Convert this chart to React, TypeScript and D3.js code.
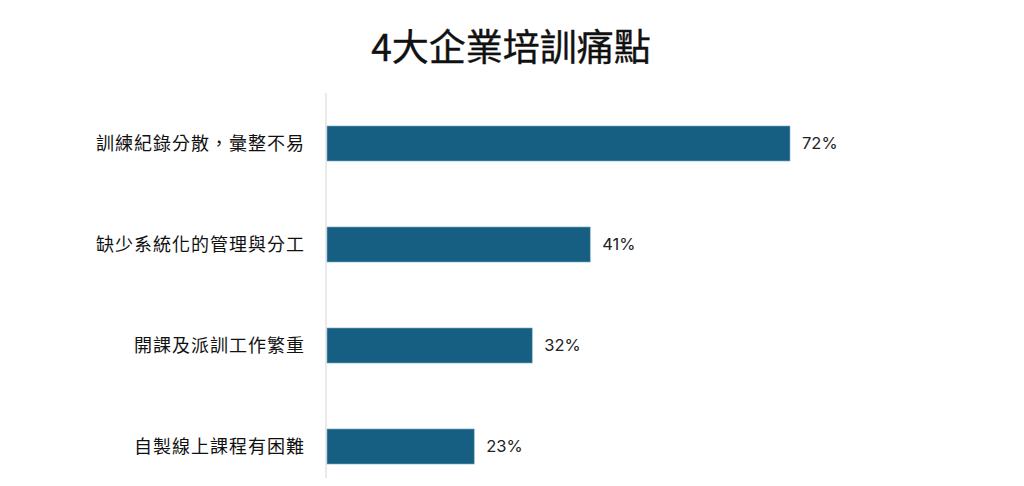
import React, { useEffect, useRef } from "react";
import * as d3 from "d3";

const categories = [
  "訓練紀錄分散，彙整不易",
  "缺少系統化的管理與分工",
  "開課及派訓工作繁重",
  "自製線上課程有困難",
];
const values = [72, 41, 32, 23];
const title = "4大企業培訓痛點";

const WIDTH = 1024;
const HEIGHT = 486;

const App = () => {
  const ref = useRef<SVGSVGElement>(null);

  useEffect(() => {
    const svg = d3.select(ref.current);
    svg.selectAll("*").remove();

    const x = d3.scaleLinear().domain([0, 72]).range([326, 790]);
    const y = d3
      .scaleBand<string>()
      .domain(categories)
      .range([93, 497])
      .paddingInner(0.653)
      .paddingOuter(0.3265);

    svg
      .append("text")
      .attr("x", 511)
      .attr("y", 61)
      .attr("text-anchor", "middle")
      .style("font-family", "'Noto Sans CJK TC', sans-serif")
      .style("font-size", "37px")
      .style("font-weight", 400)
      .style("fill", "#111")
      .style("stroke", "#111")
      .style("stroke-width", 0.4)
      .text(title);

    svg
      .append("line")
      .attr("x1", x(0))
      .attr("x2", x(0))
      .attr("y1", 93)
      .attr("y2", HEIGHT)
      .attr("stroke", "#e3e3e3")
      .attr("stroke-width", 1.5);

    const rows = svg
      .selectAll("g.row")
      .data(categories.map((c, i) => ({ c, v: values[i] })))
      .join("g")
      .attr("class", "row");

    rows
      .append("rect")
      .attr("x", x(0) + 1)
      .attr("y", (d) => y(d.c)!)
      .attr("width", (d) => x(d.v) - x(0) - 1)
      .attr("height", y.bandwidth())
      .attr("fill", "#175f82")
      .attr("stroke", "#7fb3cc")
      .attr("stroke-width", 0.6);

    rows
      .append("text")
      .attr("x", 305)
      .attr("y", (d) => y(d.c)! + y.bandwidth() / 2)
      .attr("dy", "0.35em")
      .attr("text-anchor", "end")
      .style("font-family", "'Noto Sans CJK TC', sans-serif")
      .style("font-size", "18px")
      .style("letter-spacing", "1px")
      .style("fill", "#111")
      .text((d) => d.c);

    rows
      .append("text")
      .attr("x", (d) => x(d.v) + 12)
      .attr("y", (d) => y(d.c)! + y.bandwidth() / 2)
      .attr("dy", "0.36em")
      .style("font-family", "Inter, Roboto, sans-serif")
      .style("font-size", "16.5px")
      .style("fill", "#222")
      .text((d) => `${d.v}%`);
  }, []);

  return (
    <svg
      ref={ref}
      width={WIDTH}
      height={HEIGHT}
      style={{ display: "block", margin: "-8px", background: "#fff" }}
    />
  );
};

export default App;
